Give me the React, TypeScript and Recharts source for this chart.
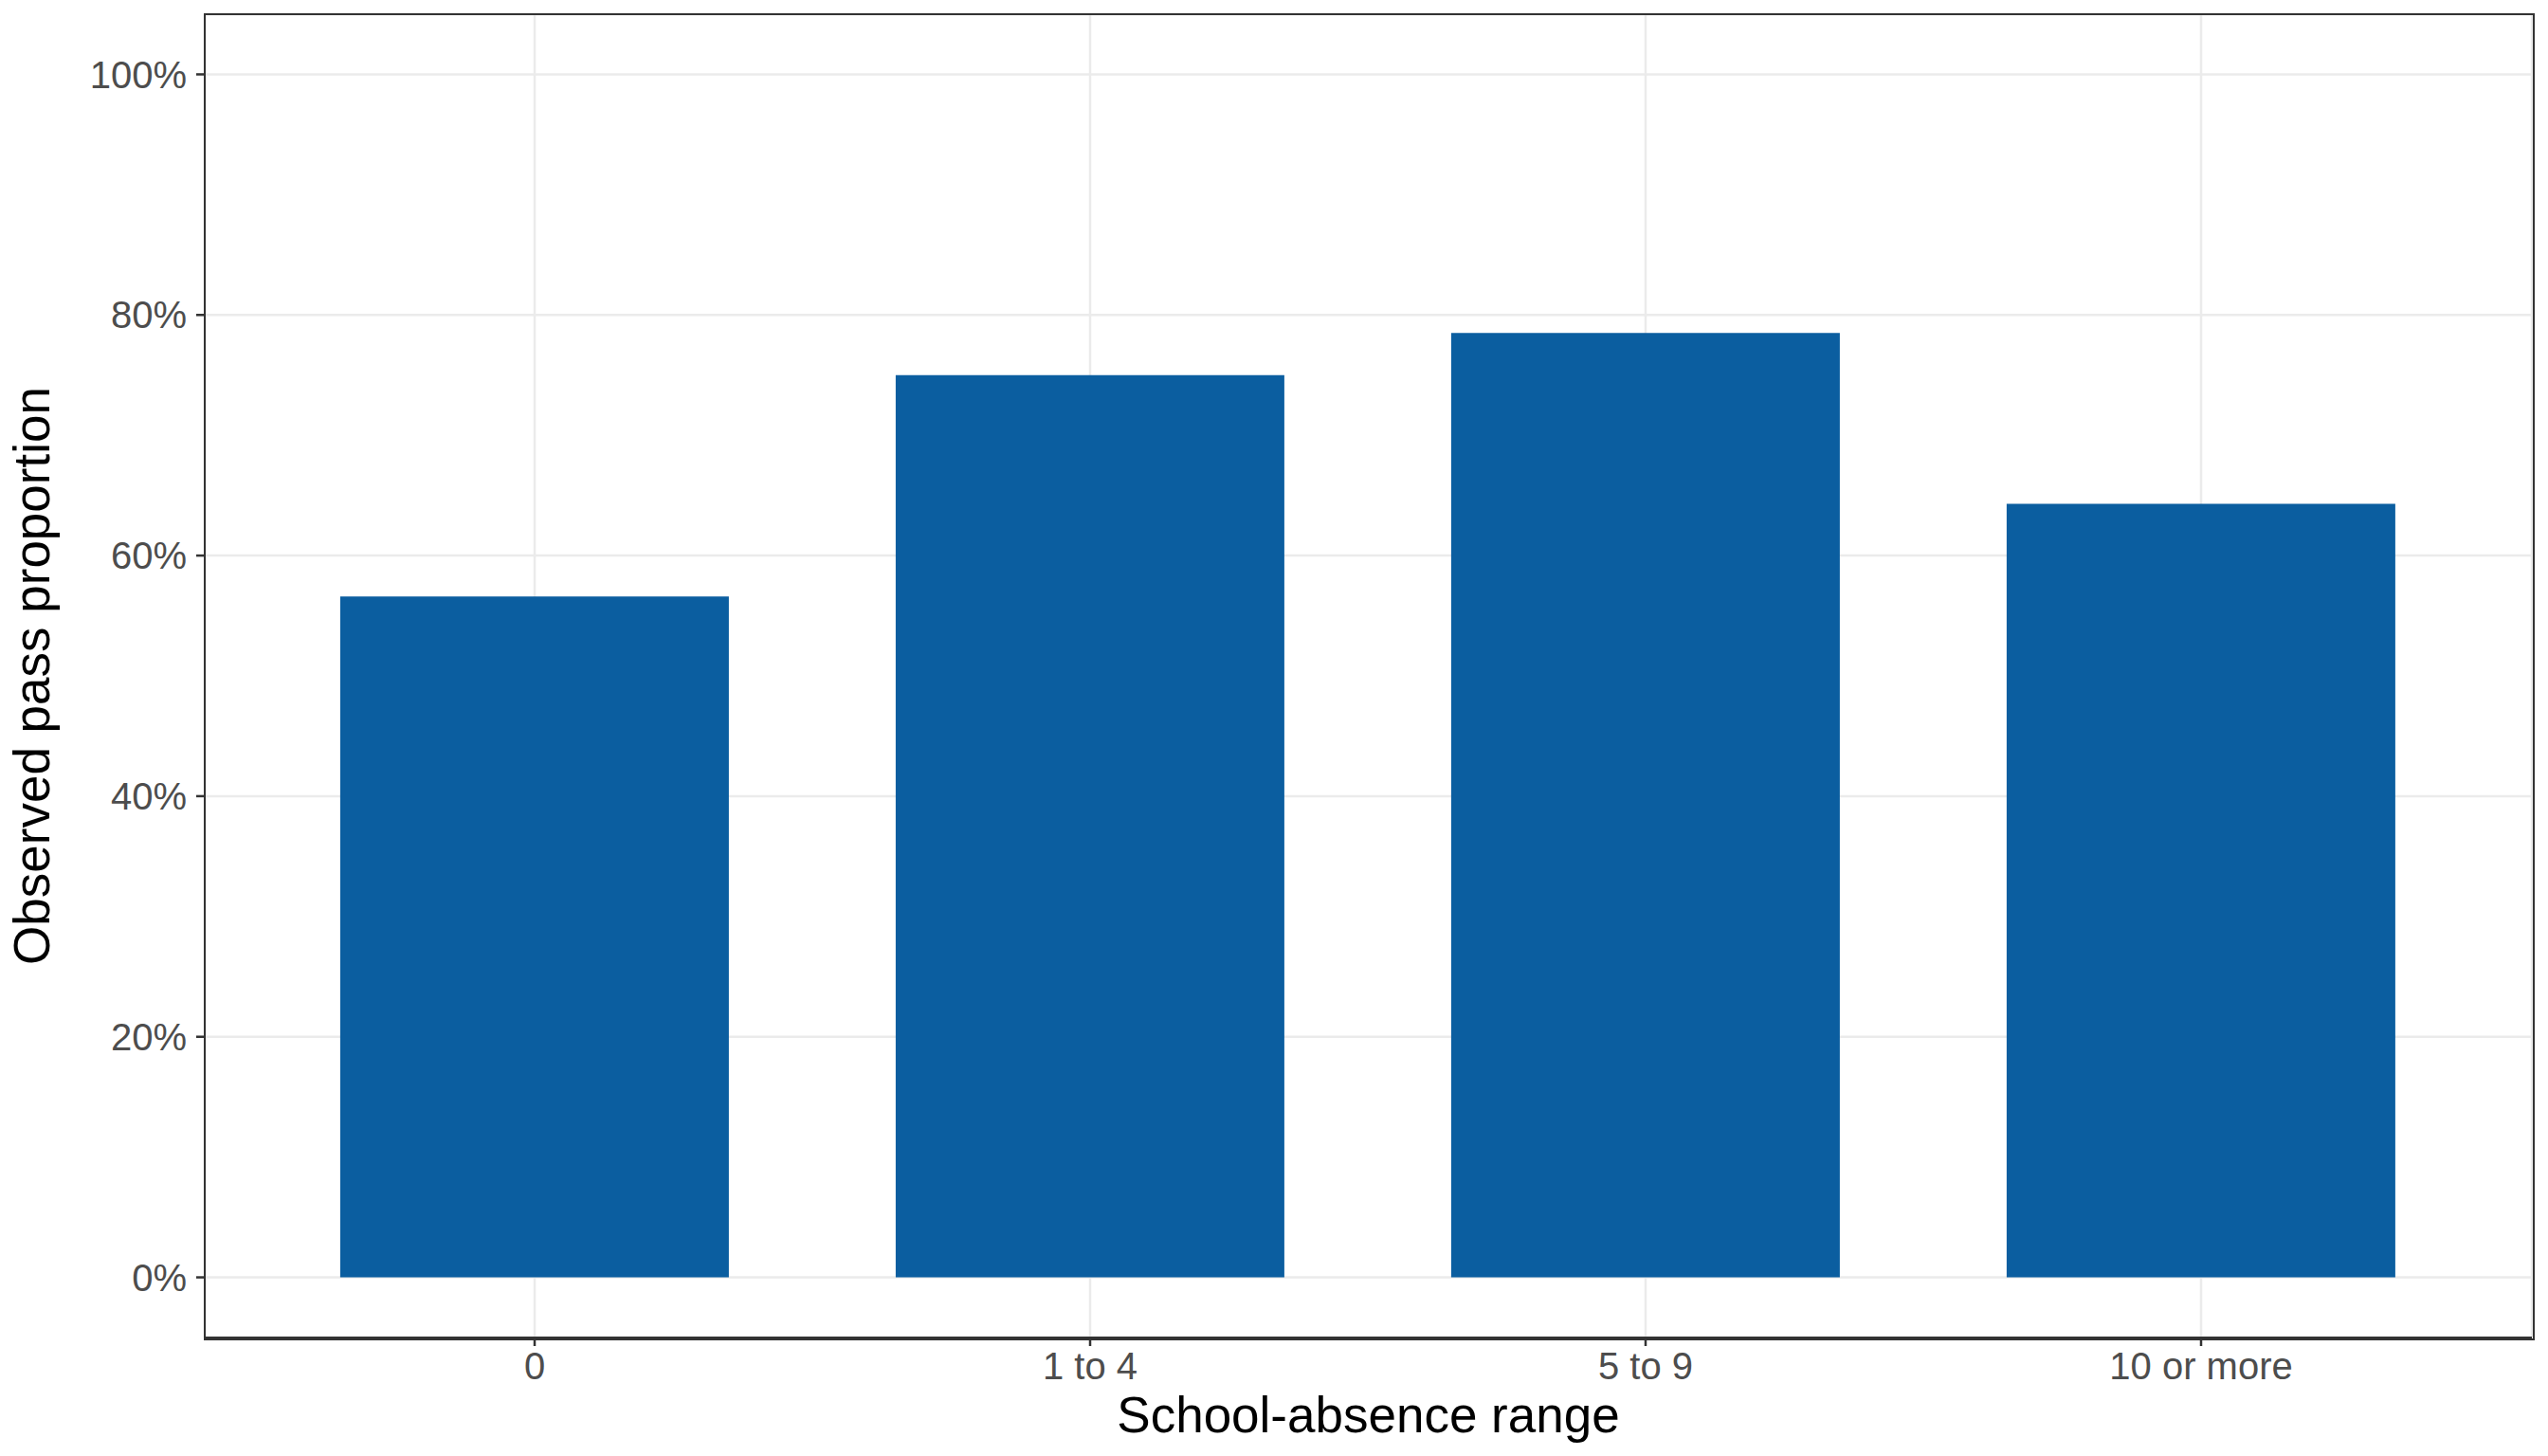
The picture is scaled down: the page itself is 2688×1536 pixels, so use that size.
import { BarChart, Bar, XAxis, YAxis, CartesianGrid } from 'recharts';

const ranges = ['0', '1 to 4', '5 to 9', '10 or more'];
const passShare = [0.566, 0.75, 0.785, 0.643];
const yTicks = [0, 0.2, 0.4, 0.6, 0.8, 1];

const data = ranges.map((range, i) => ({ range, share: passShare[i] }));

const FONT = '"Liberation Sans", Arial, Helvetica, sans-serif';
const INK = '#333333';
const TICK_TEXT = '#4D4D4D';

// chart layout
const W = 2688;
const H = 1536;
const MARGIN = { top: 15, right: 17, bottom: 0, left: 0 };
const Y_AXIS_W = 216;
const X_AXIS_H = 125;

function XTitle(props: any) {
  const { viewBox } = props;
  return (
    <text
      x={viewBox.x + viewBox.width / 2}
      y={viewBox.y + 100}
      textAnchor="middle"
      fontSize={53}
      fontFamily={FONT}
      fill="#000"
    >
      School-absence range
    </text>
  );
}

function YTitle(props: any) {
  const { viewBox } = props;
  const cx = viewBox.x + 52;
  const cy = viewBox.y + viewBox.height / 2;
  return (
    <text
      x={cx}
      y={cy}
      transform={`rotate(-90, ${cx}, ${cy})`}
      textAnchor="middle"
      fontSize={53}
      fontFamily={FONT}
      fill="#000"
    >
      Observed pass proportion
    </text>
  );
}

export default function App() {
  // panel border (ggplot theme_bw style), from the same layout numbers
  const frame = {
    left: MARGIN.left + Y_AXIS_W - 1,
    top: MARGIN.top - 1,
    width: W - MARGIN.left - MARGIN.right - Y_AXIS_W,
    height: H - MARGIN.top - MARGIN.bottom - X_AXIS_H,
  };
  return (
    <div style={{ position: 'absolute', left: 0, top: 0, width: W, height: H, background: '#fff' }}>
      <BarChart width={W} height={H} data={data} margin={MARGIN} barCategoryGap="15%">
        <CartesianGrid stroke="#EBEBEB" strokeWidth={2.5} />
        <XAxis
          dataKey="range"
          height={X_AXIS_H}
          padding={{ left: 55, right: 56 }}
          axisLine={{ stroke: INK, strokeWidth: 2 }}
          tickLine={{ stroke: INK, strokeWidth: 2.5 }}
          tickSize={9}
          tickMargin={7}
          tick={{ fill: TICK_TEXT, fontSize: 40, fontFamily: FONT }}
          label={<XTitle />}
        />
        <YAxis
          width={Y_AXIS_W}
          type="number"
          domain={[-0.05, 1.05]}
          ticks={yTicks}
          allowDataOverflow
          axisLine={{ stroke: INK, strokeWidth: 2 }}
          tickLine={{ stroke: INK, strokeWidth: 2.5 }}
          tickSize={9}
          tickMargin={10}
          tickFormatter={(v: number) => `${Math.round(v * 100)}%`}
          tick={{ fill: TICK_TEXT, fontSize: 40, fontFamily: FONT }}
          label={<YTitle />}
        />
        <Bar dataKey="share" fill="#0B5EA0" isAnimationActive={false} />
      </BarChart>
      <div
        style={{
          position: 'absolute',
          left: frame.left,
          top: frame.top,
          width: frame.width,
          height: frame.height,
          border: `2px solid ${INK}`,
          boxSizing: 'content-box',
          pointerEvents: 'none',
        }}
      />
    </div>
  );
}
